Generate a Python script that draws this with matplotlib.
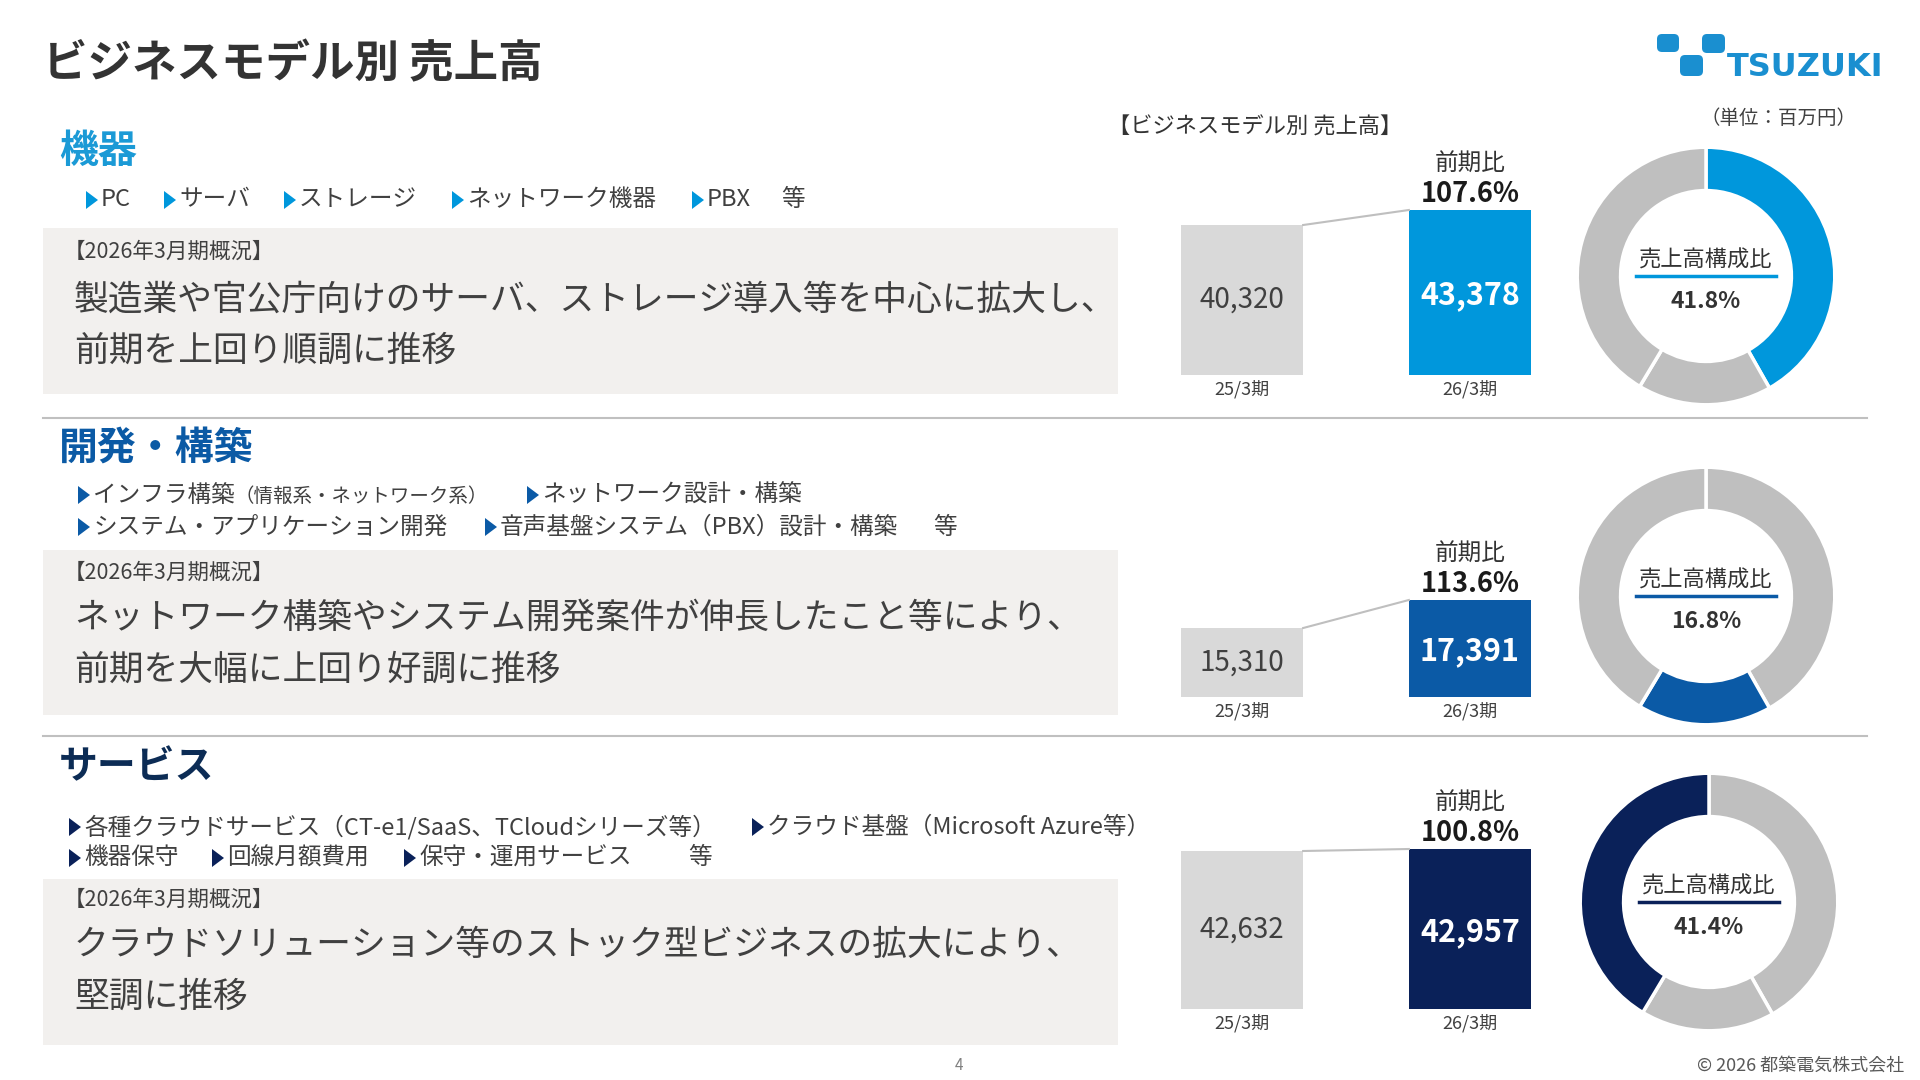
import numpy as np
import matplotlib
matplotlib.use('Agg')
import matplotlib.pyplot as plt
from matplotlib.patches import Rectangle, FancyBboxPatch, Polygon

plt.rcParams['font.family'] = ['Noto Sans CJK JP', 'DejaVu Sans']

# ---- data ----
segments = ['機器', '開発・構築', 'サービス']
periods = ['25/3期', '26/3期']
sales_prev = [40320, 15310, 42632]
sales_curr = [43378, 17391, 42957]
yoy_pct = [107.6, 113.6, 100.8]
share_pct = [41.8, 16.8, 41.4]

bullets = [
    [['PC', 'サーバ', 'ストレージ', 'ネットワーク機器', 'PBX']],
    [['インフラ構築', 'ネットワーク設計・構築'],
     ['システム・アプリケーション開発', '音声基盤システム（PBX）設計・構築']],
    [['各種クラウドサービス（CT-e1/SaaS、TCloudシリーズ等）', 'クラウド基盤（Microsoft Azure等）'],
     ['機器保守', '回線月額費用', '保守・運用サービス']],
]
bullet_note = '（情報系・ネットワーク系）'
summary_head = '【2026年3月期概況】'
summary = [
    ['製造業や官公庁向けのサーバ、ストレージ導入等を中心に拡大し、', '前期を上回り順調に推移'],
    ['ネットワーク構築やシステム開発案件が伸長したこと等により、', '前期を大幅に上回り好調に推移'],
    ['クラウドソリューション等のストック型ビジネスの拡大により、', '堅調に推移'],
]

# ---- layout / style (pixels in a 1920x1080 frame) ----
W, H = 1920, 1080
seg_colors = ['#0097dc', '#0b5aa6', '#0a2159']
head_colors = ['#1b9ad6', '#0b5aa5', '#0c2c55']
gray_bar = '#d9d9d9'
gray_ring = '#bfbfbf'
box_color = '#f2f0ee'
txt = '#404040'
logo_blue = '#1a8fd0'

head_y = [152, 448, 767]
bullet_y = [[200], [495, 527], [827, 858]]
bullet_x = [[[86, 164, 284, 452, 692]],
            [[78, 527], [78, 485]],
            [[69, 752], [69, 212, 404]]]
etc_pos = [(781, 0), (933, 1), (688, 1)]
box_y = [(228, 394), (550, 715), (879, 1045)]
sum_head_y = [252, 573, 900]
sum_y = [(300, 351), (618, 670), (945, 997)]
sep_y = [418, 736]

bar_left, bar_right = 1181, 1531
bar_bottom = [375, 697, 1009]
bar_top = [210, 600, 849]
bar_floor = [9770, 10190, 17000]
donut_c = [(1706, 276), (1706, 596), (1709, 902)]
donut_r = 127.5

fig = plt.figure(figsize=(19.2, 10.8), dpi=100)
fig.patch.set_facecolor('white')

ax0 = fig.add_axes([0, 0, 1, 1])
ax0.set_xlim(0, W)
ax0.set_ylim(H, 0)
ax0.axis('off')

# title + logo
ax0.text(43, 64, 'ビジネスモデル別 売上高', fontsize=32, fontweight='bold',
         color='#333333', va='center', ha='left')
for (x0, y0, w0, h0) in [(1657, 34, 22, 18), (1702, 34, 23, 19), (1680, 55, 23, 21)]:
    ax0.add_patch(FancyBboxPatch((x0, y0), w0, h0, boxstyle='round,pad=0,rounding_size=5',
                                 fc=logo_blue, ec='none'))
ax0.text(1727, 67, 'TSUZUKI', fontsize=23, fontweight='bold', color=logo_blue,
         family=['DejaVu Sans'], va='center', ha='left')

ax0.text(1255, 127, '【ビジネスモデル別 売上高】', fontsize=16, color='#333333', ha='center', va='center')
ax0.text(1778, 119, '（単位：百万円）', fontsize=14, color='#404040', ha='center', va='center')

for y in sep_y:
    ax0.plot([43, 1867], [y, y], color='#c0c0c0', lw=1.5)

for i, seg in enumerate(segments):
    ax0.text(59, head_y[i], seg, fontsize=28, fontweight='bold', color=head_colors[i],
             ha='left', va='center')
    for li, items in enumerate(bullets[i]):
        y = bullet_y[i][li]
        for k, item in enumerate(items):
            x = bullet_x[i][li][k]
            ax0.add_patch(Polygon([(x, y - 9), (x, y + 9), (x + 12, y)], closed=True,
                                  fc=seg_colors[i], ec='none'))
            ax0.text(x + 15, y, item, fontsize=17, color=txt, ha='left', va='center')
            if i == 1 and li == 0 and k == 0:
                ax0.text(234, y + 1, bullet_note, fontsize=14, color=txt, ha='left', va='center')
    ex, el = etc_pos[i]
    ax0.text(ex, bullet_y[i][el], '等', fontsize=17, color=txt, ha='left', va='center')

    b0, b1 = box_y[i]
    ax0.add_patch(Rectangle((43, b0), 1118 - 43, b1 - b0, fc=box_color, ec='none', zorder=0))
    ax0.text(64, sum_head_y[i], summary_head, fontsize=15.5, color=txt, ha='left', va='center')
    for line, y in zip(summary[i], sum_y[i]):
        ax0.text(74, y, line, fontsize=25, color=txt, ha='left', va='center')

    # bar chart
    ax = fig.add_axes([bar_left / W, 1 - bar_bottom[i] / H,
                       (bar_right - bar_left) / W, (bar_bottom[i] - bar_top[i]) / H])
    w = 0.536
    xs = np.arange(2)
    vals = [sales_prev[i], sales_curr[i]]
    ax.bar(xs, vals, width=w, color=[gray_bar, seg_colors[i]])
    ax.set_xlim(-w / 2, 1 + w / 2)
    ax.set_ylim(bar_floor[i], sales_curr[i])
    ax.axis('off')
    ax.plot([w / 2, 1 - w / 2], vals, color='#bfbfbf', lw=1.5, clip_on=False)
    for k in range(2):
        mid = (bar_floor[i] + vals[k]) / 2
        if k == 0:
            ax.text(k, mid, f'{vals[k]:,}', fontsize=20, color=txt, ha='center', va='center')
        else:
            ax.annotate(f'{vals[k]:,}', (k, mid), xytext=(0, -2), textcoords='offset points',
                        fontsize=22, fontweight='bold', color='white', ha='center', va='center')
        ax.annotate(periods[k], (k, bar_floor[i]), xytext=(0, -10), textcoords='offset points',
                    fontsize=13, color=txt, ha='center', va='center', annotation_clip=False)
    ax.annotate('前期比', (1, sales_curr[i]), xytext=(0, 33), textcoords='offset points',
                fontsize=17, color='#333333', ha='center', va='center', annotation_clip=False)
    ax.annotate(f'{yoy_pct[i]}%', (1, sales_curr[i]), xytext=(0, 11.5), textcoords='offset points',
                fontsize=19.5, fontweight='bold', color='#1a1a1a', ha='center', va='center',
                annotation_clip=False)

    # donut
    cx, cy = donut_c[i]
    axd = fig.add_axes([(cx - donut_r) / W, 1 - (cy + donut_r) / H, 2 * donut_r / W, 2 * donut_r / H])
    cols = [gray_ring] * 3
    cols[i] = seg_colors[i]
    axd.pie(share_pct, colors=cols, startangle=90, counterclock=False, radius=1.01,
            wedgeprops=dict(width=0.34, edgecolor='white', linewidth=2.5))
    axd.set_xlim(-1, 1)
    axd.set_ylim(-1, 1)
    axd.set_aspect('equal')
    axd.text(0, 0.125, '売上高構成比', fontsize=16, color='#333333', ha='center', va='center')
    axd.plot([-0.55, 0.55], [0, 0], color=seg_colors[i], lw=2.5)
    axd.text(0, -0.2, f'{share_pct[i]}%', fontsize=16.5, fontweight='bold', color='#333333',
             ha='center', va='center')

ax0.text(959, 1066, '4', fontsize=11, color='#808080', ha='center', va='center')
ax0.text(1904, 1066, '© 2026 都築電気株式会社', fontsize=13, color='#595959', ha='right', va='center')

fig.savefig('out.png', dpi=100, facecolor='white')
